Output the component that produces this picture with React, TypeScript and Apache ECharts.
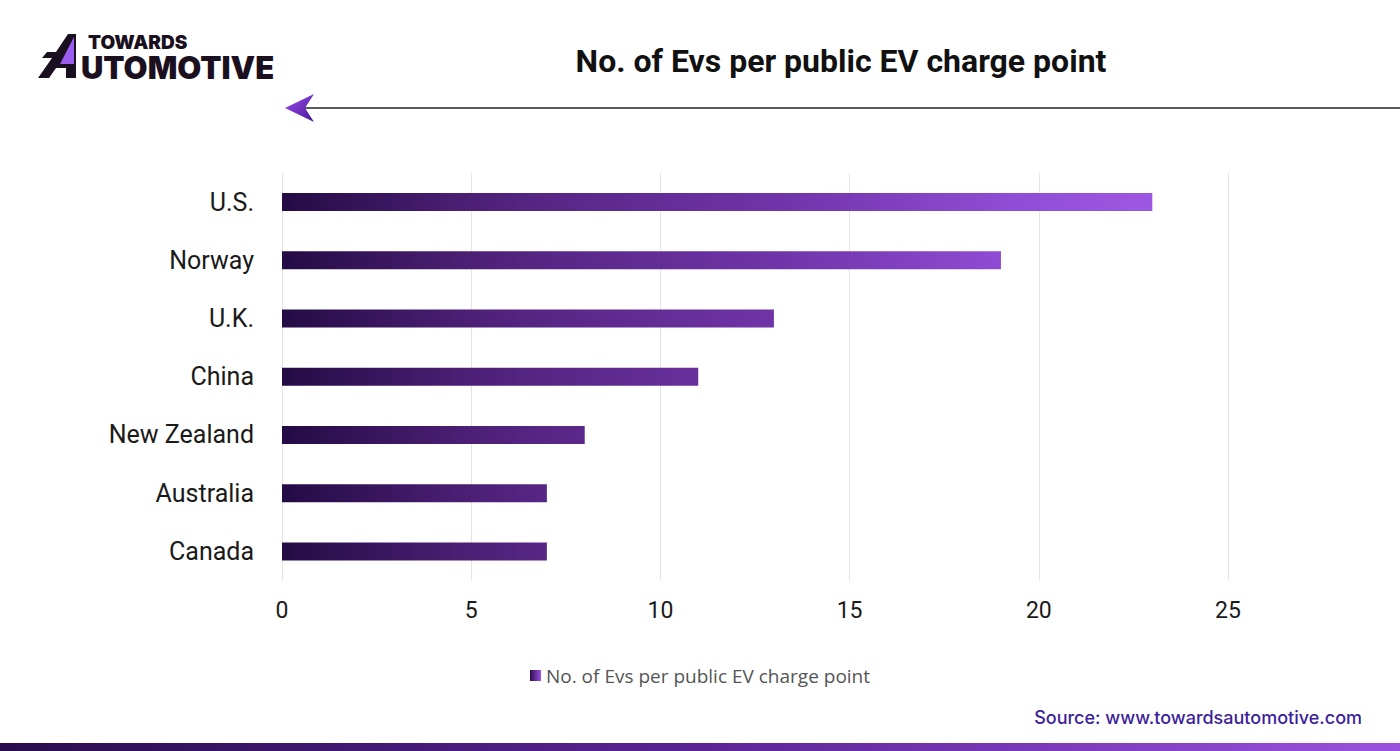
import React, { useEffect, useRef } from "react";
import * as echarts from "echarts";

const categories = ["U.S.", "Norway", "U.K.", "China", "New Zealand", "Australia", "Canada"];
const values = [23, 19, 13, 11, 8, 7, 7];
const seriesName = "No. of Evs per public EV charge point";
const titleText = "No. of Evs per public EV charge point";
const sourceText = "Source: www.towardsautomotive.com";

export default function App() {
  const ref = useRef<HTMLDivElement>(null);
  useEffect(() => {
    if (!ref.current) return;
    const chart = echarts.init(ref.current, null, { renderer: "svg" });
    const barGradient = {
      type: "linear",
      x: 282,
      y: 0,
      x2: 1153,
      y2: 0,
      global: true,
      colorStops: [
        { offset: 0, color: "#240b45" },
        { offset: 0.2, color: "#4a1e72" },
        { offset: 0.3, color: "#572685" },
        { offset: 0.57, color: "#7034a8" },
        { offset: 0.83, color: "#904cd4" },
        { offset: 1, color: "#9e57e2" },
      ],
    };
    const localGradient = new echarts.graphic.LinearGradient(0, 0, 1, 0, [
      { offset: 0, color: "#2a0c4e" },
      { offset: 1, color: "#9b51e0" },
    ]);
    chart.setOption({
      animation: false,
      backgroundColor: "#ffffff",
      grid: {
        left: 282,
        top: 173,
        height: 407.5,
        width: 1135.2,
        containLabel: false,
        outerBoundsMode: "none",
      },
      xAxis: {
        type: "value",
        min: 0,
        max: 30,
        interval: 5,
        axisLine: { show: false },
        axisTick: { show: false },
        splitLine: { show: true, lineStyle: { color: "#e4e4e4", width: 1 } },
        axisLabel: {
          fontFamily: "Roboto",
          fontSize: 23,
          color: "#1a1a1a",
          margin: 18,
          showMaxLabel: false,
        },
      },
      yAxis: {
        type: "category",
        data: categories,
        inverse: true,
        axisLine: { show: false },
        axisTick: { show: false },
        splitLine: { show: false },
        axisLabel: { fontFamily: "Roboto", fontSize: 25, color: "#1a1a1a", margin: 28 },
      },
      legend: {
        show: true,
        bottom: 61,
        left: "center",
        icon: "rect",
        itemWidth: 11,
        itemHeight: 11,
        itemGap: 8,
        textStyle: { fontFamily: "Open Sans", fontSize: 19, color: "#555555" },
        data: [{ name: seriesName, itemStyle: { color: localGradient } }],
      },
      series: [
        {
          name: seriesName,
          type: "bar",
          data: values,
          barWidth: 18,
          itemStyle: { color: barGradient },
        },
      ],
      graphic: [
        {
          type: "text",
          x: 841,
          y: 61,
          style: {
            text: titleText,
            fontFamily: "Roboto",
            fontWeight: 700,
            fontSize: 32,
            fill: "#111111",
            textAlign: "center",
            textVerticalAlign: "middle",
          },
        },
        {
          type: "line",
          shape: { x1: 300, y1: 108, x2: 1400, y2: 108 },
          style: { stroke: "#222222", lineWidth: 1.5 },
        },
        {
          type: "polygon",
          shape: { points: [[285, 108], [314, 94], [305, 108], [314, 122]] },
          style: {
            fill: new echarts.graphic.LinearGradient(0, 0, 1, 1, [
              { offset: 0, color: "#9a4df0" },
              { offset: 1, color: "#4a1896" },
            ]),
          },
        },
        // logo mark
        {
          type: "polygon",
          shape: {
            points: [
              [38, 78], [52, 58], [42, 58], [47, 52], [56, 52], [68, 34], [76, 34], [76, 78], [66, 78], [66, 68], [56, 68], [49, 78],
            ],
          },
          style: { fill: "#1b1020" },
        },
        {
          type: "polygon",
          shape: { points: [[60, 64], [74, 37], [74, 64]] },
          style: { fill: "#9b5cf0" },
        },
        {
          type: "text",
          x: 81,
          y: 30,
          style: {
            text: "{pad|}{a|TOWARDS}\n{b|UTOMOTIVE}",
            fontFamily: "Inter",
            fontWeight: 900,
            fill: "#1b1020",
            textVerticalAlign: "top",
            rich: {
              pad: { width: 7, height: 24, lineHeight: 24 },
              a: { fontFamily: "Inter", fontWeight: 900, fontSize: 19, lineHeight: 24, fill: "#1b1020" },
              b: { fontFamily: "Inter", fontWeight: 900, fontSize: 31, lineHeight: 26, fill: "#1b1020" },
            },
          },
        },
        {
          type: "text",
          x: 1362,
          y: 717,
          style: {
            text: sourceText,
            fontFamily: "Inter",
            fontWeight: 500,
            fontSize: 18,
            fill: "#3c1e9a",
            textAlign: "right",
            textVerticalAlign: "middle",
          },
        },
        {
          type: "rect",
          shape: { x: 0, y: 743, width: 1400, height: 8 },
          style: {
            fill: new echarts.graphic.LinearGradient(0, 0, 1, 0, [
              { offset: 0, color: "#2a0c4e" },
              { offset: 0.5, color: "#5a2496" },
              { offset: 1, color: "#9b51e0" },
            ]),
          },
        },
      ],
    });
    return () => chart.dispose();
  }, []);
  return (
    <div
      ref={ref}
      style={{ position: "absolute", left: 0, top: 0, width: 1400, height: 751, background: "#fff" }}
    />
  );
}
